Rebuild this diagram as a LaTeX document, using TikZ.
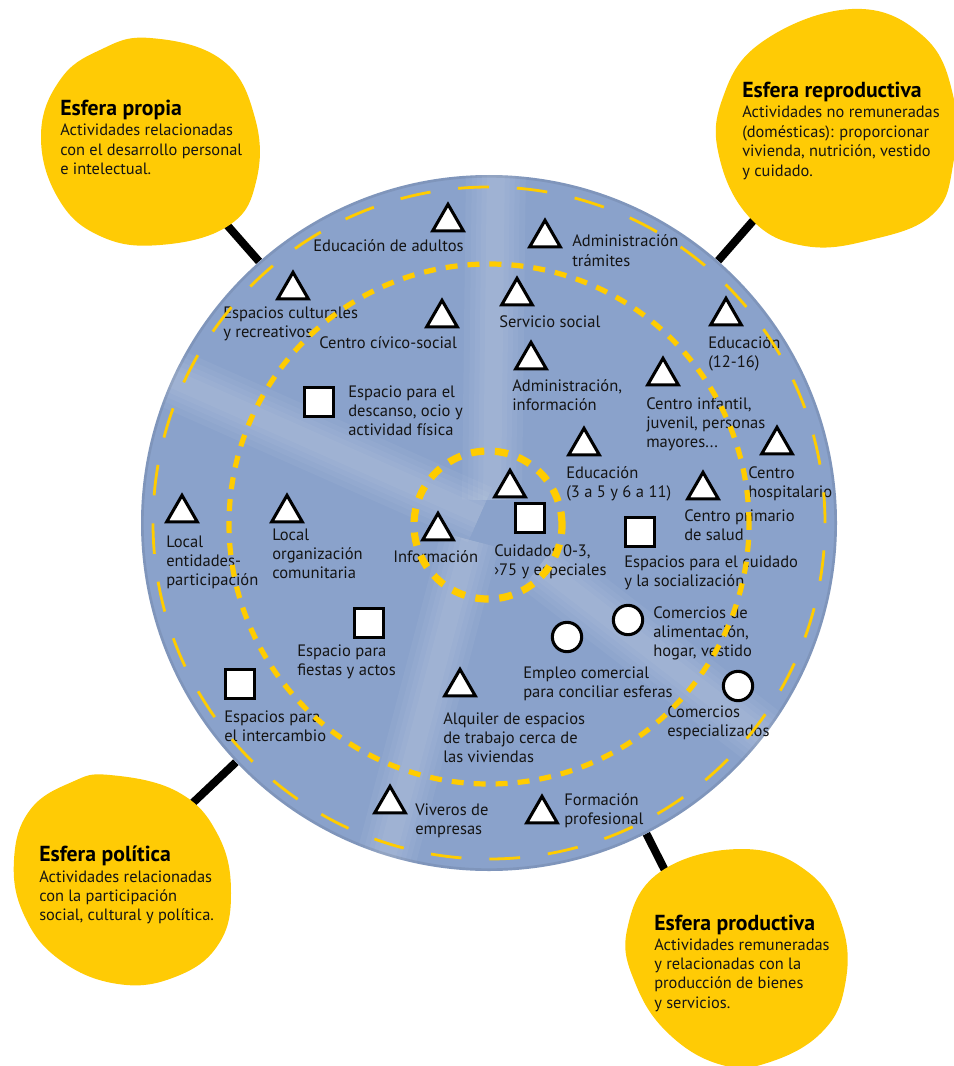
\documentclass[tikz,border=0pt]{standalone}
\usepackage{fontspec}
\setmainfont{PT Sans}
\usetikzlibrary{shapes.geometric}
\pgfdeclarelayer{bg}
\pgfsetlayers{bg,main}
\definecolor{diskblue}{HTML}{8AA2CB}
\definecolor{sunyellow}{HTML}{FFCB05}
\definecolor{dashyellow}{HTML}{FFCC00}
\definecolor{inktext}{HTML}{141414}
\newcommand\mlines[1]{\begin{tabular}[t]{@{}l@{}}#1\end{tabular}}
\begin{document}
\begin{tikzpicture}[x=0.75pt,y=-0.75pt,
  lbl/.style={anchor=base west, inner sep=0pt, text=inktext,
    font=\fontsize{12.4}{14.5}\selectfont},
  ttl/.style={anchor=base west, inner sep=0pt, text=black,
    font=\fontsize{16.3}{18}\selectfont\bfseries},
  blobtxt/.style={anchor=base west, inner sep=0pt, text=inktext,
    font=\fontsize{12.3}{14.6}\selectfont},
  blob/.style={fill=sunyellow},
  conn/.style={draw=black, line width=6pt},
  tri/.style={regular polygon, regular polygon sides=3, draw=black, fill=white,
    line width=2.3pt, inner sep=0pt, minimum size=26.5pt},
  sq/.style={rectangle, draw=black, fill=white, line width=2.3pt, inner sep=0pt,
    minimum size=21.5pt},
  rnd/.style={circle, draw=black, fill=white, line width=2.3pt, inner sep=0pt,
    minimum size=22pt},
  band/.style={draw=white, opacity=0.045, line cap=butt},
  ringouter/.style={draw=dashyellow, line width=2.1pt, dash pattern=on 23pt off 21pt},
  ringmid/.style={draw=dashyellow, line width=3.9pt, dash pattern=on 9pt off 7.5pt},
  ringinner/.style={draw=dashyellow, line width=5.4pt, dash pattern=on 10pt off 8pt},
]
\useasboundingbox (0,0) rectangle (953,1066);

% ---------- the disk ----------
\node[circle, fill=diskblue, inner sep=0pt, minimum size=522pt] (disk) at (489,523) {};

\begin{scope}
  \clip (489,523) circle[radius=261pt];
  \foreach \w in {60,48,38,28,18} {
    \draw[band, line width=\w*0.75pt] (496,160) -- (492,500);
    \draw[band, line width=\w*0.75pt] (130,360) -- (480,515);
    \draw[band, line width=\w*0.75pt] (470,540) -- (378,890);
    \draw[band, line width=\w*0.75pt] (540,565) -- (800,765);
  }
\end{scope}
\draw[black, opacity=0.08, line width=2pt] (disk.center) circle[radius=260pt];

% ---------- blobs ----------
\fill[blob] plot[smooth cycle, tension=0.7] coordinates {
  (150,38) (222,60) (255,118) (256,182) (228,226) (160,245) (100,236)
  (58,198) (41,135) (60,80) (100,50)};
\fill[blob] plot[smooth cycle, tension=0.7] coordinates {
  (852,9) (922,35) (953,95) (953,165) (932,215) (870,240) (805,246)
  (752,220) (720,160) (722,100) (762,42)};
\fill[blob] plot[smooth cycle, tension=0.7] coordinates {
  (110,775) (178,792) (218,835) (231,893) (218,945) (175,977) (118,984)
  (60,960) (24,915) (14,860) (30,810) (72,782)};
\fill[blob] plot[smooth cycle, tension=0.7] coordinates {
  (742,849) (808,872) (842,925) (845,985) (822,1032) (770,1062) (722,1065)
  (670,1035) (636,985) (627,930) (660,872)};

% connector tips inside the blobs
\coordinate (propiaTip) at (205,200);
\coordinate (reproTip) at (780,190);
\coordinate (politTip) at (180,815);
\coordinate (produTip) at (685,910);

\begin{pgfonlayer}{bg}
  \draw[conn] (propiaTip) -- (disk);
  \draw[conn] (reproTip) -- (disk);
  \draw[conn] (politTip) -- (disk);
  \draw[conn] (produTip) -- (disk);
\end{pgfonlayer}

% ---------- blob texts ----------
\node[ttl] (propiaT) at (60,116) {Esfera propia};
\node[blobtxt] (propiaB) at (60,136) {\mlines{Actividades relacionadas\\con el desarrollo personal\\e intelectual.}};

\node[ttl] (reproT) at (742,98) {Esfera reproductiva};
\node[blobtxt] (reproB) at (742,118) {\mlines{Actividades no remuneradas\\(domésticas): proporcionar\\vivienda, nutrición, vestido\\y cuidado.}};

\node[ttl] (politT) at (39,861) {Esfera política};
\node[blobtxt] (politB) at (39,882) {\mlines{Actividades relacionadas\\con la participación\\social, cultural y política.}};

\node[ttl] (produT) at (654,930) {Esfera productiva};
\node[blobtxt] (produB) at (654,950) {\mlines{Actividades remuneradas\\y relacionadas con la\\producción de bienes\\y servicios.}};

% ---------- symbols ----------
\node[tri] (t1) at (448,222) {};
\node[tri] (t2) at (545,238) {};
\node[tri] (t3) at (293,290) {};
\node[tri] (t4) at (517,296) {};
\node[tri] (t5) at (442,318) {};
\node[tri] (t6) at (726,316) {};
\node[tri] (t7) at (531,360) {};
\node[tri] (t8) at (663,376) {};
\node[tri] (t9) at (777,445) {};
\node[tri] (t10) at (584,446) {};
\node[tri] (t11) at (510,488) {};
\node[tri] (t12) at (703,490) {};
\node[tri] (t13) at (182,513) {};
\node[tri] (t14) at (287,513) {};
\node[tri] (t15) at (438,531) {};
\node[tri] (t16) at (460,687) {};
\node[tri] (t17) at (390,804) {};
\node[tri] (t18) at (542,814) {};

\node[sq] (s1) at (319,402) {};
\node[sq] (s2) at (530,518) {};
\node[sq] (s3) at (640,532) {};
\node[sq] (s4) at (369,623) {};
\node[sq] (s5) at (240,684) {};

\node[rnd] (c1) at (628,620) {};
\node[rnd] (c2) at (567,637) {};
\node[rnd] (c3) at (738,686) {};

% ---------- labels ----------
\node[lbl] (l1) at (313,251) {Educación de adultos};
\node[lbl] (l2) at (572,247) {\mlines{Administración\\trámites}};
\node[lbl] (l3) at (223,318) {\mlines{Espacios culturales\\y recreativos}};
\node[lbl] (l4) at (499,327) {Servicio social};
\node[lbl] (l5) at (319,348) {Centro cívico-social};
\node[lbl] (l6) at (708,348) {\mlines{Educación\\(12-16)}};
\node[lbl] (l7) at (512,391) {\mlines{Administración,\\información}};
\node[lbl] (l8) at (646,409) {\mlines{Centro infantil,\\juvenil, personas\\mayores...}};
\node[lbl] (l9) at (748,478) {\mlines{Centro\\hospitalario}};
\node[lbl] (l10) at (566,478) {\mlines{Educación\\(3 a 5 y 6 a 11)}};
\node[lbl] (l11) at (684,521) {\mlines{Centro primario\\de salud}};
\node[lbl] (l12) at (166,547) {\mlines{Local\\entidades-\\participación}};
\node[lbl] (l13) at (272,540) {\mlines{Local\\organización\\comunitaria}};
\node[lbl] (l14) at (393,562) {Información};
\node[lbl] (l15) at (443,724) {\mlines{Alquiler de espacios\\de trabajo cerca de\\las viviendas}};
\node[lbl] (l16) at (415,815) {\mlines{Viveros de\\empresas}};
\node[lbl] (l17) at (564,805) {\mlines{Formación\\profesional}};
\node[lbl] (l18) at (348,397) {\mlines{Espacio para el\\descanso, ocio y\\actividad física}};
\node[lbl] (l19) at (494,556) {\mlines{Cuidados 0-3,\\›75 y especiales}};
\node[lbl] (l20) at (624,567) {\mlines{Espacios para el cuidado\\y la socialización}};
\node[lbl] (l21) at (297,656) {\mlines{Espacio para\\fiestas y actos}};
\node[lbl] (l22) at (224,722) {\mlines{Espacios para\\el intercambio}};
\node[lbl] (l23) at (653,618) {\mlines{Comercios de\\alimentación,\\hogar, vestido}};
\node[lbl] (l24) at (523,678) {\mlines{Empleo comercial\\para conciliar esferas}};
\node[lbl] (l25) at (667,717) {\mlines{Comercios\\especializados}};

% ---------- dashed rings ----------
\draw[ringouter] (489,523) circle[radius=252pt];
\draw[ringmid] (489,524) circle[radius=195pt];
\draw[ringinner] (488,525) circle[radius=55.5pt];
\end{tikzpicture}
\end{document}
